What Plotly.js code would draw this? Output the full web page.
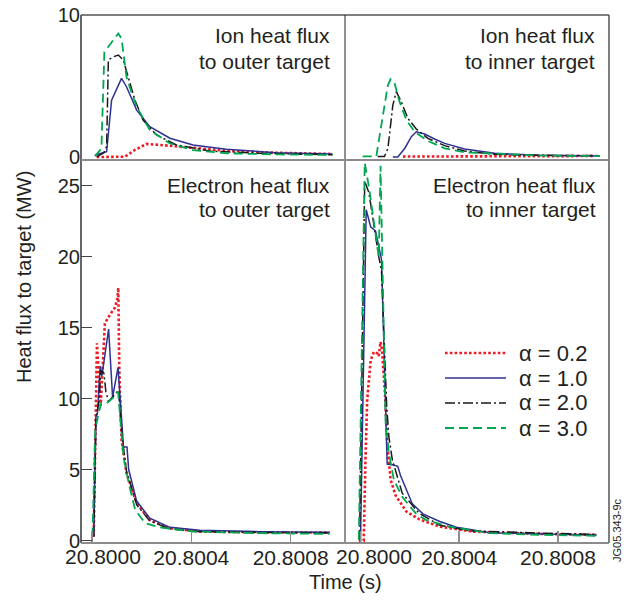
<!DOCTYPE html>
<html>
<head>
<meta charset="utf-8">
<script src="https://cdn.plot.ly/plotly-3.0.1.min.js"></script>
<style>html,body{margin:0;padding:0;background:#fff;}#chart{width:625px;height:606px;}</style>
</head>
<body>
<div id="chart"></div>
<script>
// ---- Data (time in s, heat flux in MW) ----
const seriesNames = ["α = 0.2", "α = 1.0", "α = 2.0", "α = 3.0"];
const panelTitles = [["Ion heat flux", "to outer target"], ["Ion heat flux", "to inner target"],
                     ["Electron heat flux", "to outer target"], ["Electron heat flux", "to inner target"]];
const xTickVals = [20.8, 20.8004, 20.8008];
const xTickText = ["", "20.8004", "20.8008"];
const xFirstTickVal = 20.8;
const xFirstTickText = "20.8000";
const yTickValsTop = [0, 10];
const yTickValsBottom = [0, 5, 10, 15, 20, 25];

// Ion heat flux to outer target
const ionOut02_t = [20.800019, 20.800133, 20.800173, 20.800220, 20.800273, 20.800381, 20.800541, 20.800742, 20.800970];
const ionOut02_q = [0.0, 0.02, 0.5, 0.92, 0.85, 0.68, 0.44, 0.30, 0.21];
const ionOut10_t = [20.800012, 20.800059, 20.800079, 20.800086, 20.800119, 20.800139, 20.800180, 20.800233, 20.800314, 20.800407, 20.800541, 20.800742, 20.800969];
const ionOut10_q = [0.14, 0.37, 4.0, 4.25, 5.54, 4.95, 3.3, 2.13, 1.32, 0.85, 0.54, 0.30, 0.21];
const ionOut20_t = [20.800019, 20.800048, 20.800059, 20.800066, 20.800086, 20.800106, 20.800126, 20.800146, 20.800173, 20.800206, 20.800260, 20.800340, 20.800474, 20.800675, 20.800969];
const ionOut20_q = [0.02, 0.3, 0.73, 6.83, 7.06, 7.18, 6.83, 5.65, 4.0, 2.6, 1.55, 0.85, 0.42, 0.26, 0.16];
const ionOut30_t = [20.800012, 20.800038, 20.800050, 20.800106, 20.800119, 20.800139, 20.800160, 20.800180, 20.800233, 20.800314, 20.800407, 20.800541, 20.800756, 20.800969];
const ionOut30_q = [0.05, 0.6, 7.4, 8.7, 8.35, 5.65, 4.5, 3.54, 1.9, 0.96, 0.49, 0.26, 0.18, 0.14];

// Ion heat flux to inner target
const ionIn02_t = [20.800172, 20.800564, 20.800950];
const ionIn02_q = [0.03, 0.03, 0.07];
const ionIn10_t = [20.800131, 20.800151, 20.800179, 20.800206, 20.800226, 20.800260, 20.800300, 20.800341, 20.800422, 20.800544, 20.800727, 20.800970];
const ionIn10_q = [0.0, 0.0, 0.6, 1.43, 1.78, 1.62, 1.27, 0.96, 0.56, 0.26, 0.12, 0.07];
const ionIn20_t = [20.800069, 20.800097, 20.800111, 20.800131, 20.800145, 20.800165, 20.800192, 20.800226, 20.800273, 20.800341, 20.800422, 20.800544, 20.800727, 20.800970];
const ionIn20_q = [0.03, 0.03, 0.6, 3.66, 4.6, 3.9, 2.72, 1.97, 1.31, 0.8, 0.42, 0.19, 0.12, 0.1];
const ionIn30_t = [20.800009, 20.800064, 20.800091, 20.800111, 20.800122, 20.800138, 20.800158, 20.800186, 20.800219, 20.800273, 20.800341, 20.800422, 20.800727, 20.800970];
const ionIn30_q = [0.05, 0.05, 2.96, 5.07, 5.49, 5.19, 3.9, 2.6, 1.78, 1.13, 0.61, 0.33, 0.1, 0.07];

// Electron heat flux to outer target
const elOut02_t = [20.800007, 20.800014, 20.800020, 20.800028, 20.800035, 20.800044, 20.800052, 20.800072, 20.800092, 20.800102, 20.800106, 20.800110, 20.800115, 20.800119, 20.800139, 20.800180, 20.800233, 20.800314, 20.800434, 20.800675, 20.800957];
const elOut02_q = [0.3, 7.0, 13.9, 11.5, 9.5, 12.5, 15.3, 15.9, 16.4, 17.0, 17.8, 12.0, 9.0, 7.1, 4.77, 2.65, 1.48, 0.89, 0.66, 0.59, 0.59];
const elOut10_t = [20.800007, 20.800016, 20.800022, 20.800033, 20.800040, 20.800048, 20.800067, 20.800083, 20.800105, 20.800110, 20.800127, 20.800141, 20.800148, 20.800180, 20.800233, 20.800314, 20.800434, 20.800675, 20.800957];
const elOut10_q = [0.3, 8.75, 9.0, 12.3, 11.6, 12.5, 14.9, 10.1, 12.2, 10.9, 6.6, 6.6, 5.0, 2.8, 1.6, 0.95, 0.75, 0.65, 0.6];
const elOut20_t = [20.800007, 20.800016, 20.800028, 20.800036, 20.800048, 20.800056, 20.800067, 20.800087, 20.800107, 20.800121, 20.800139, 20.800180, 20.800233, 20.800314, 20.800434, 20.800675, 20.800957];
const elOut20_q = [0.3, 8.6, 9.8, 12.0, 11.8, 10.5, 9.8, 10.2, 10.6, 7.35, 4.9, 2.55, 1.4, 0.85, 0.65, 0.6, 0.55];
const elOut30_t = [20.800002, 20.800013, 20.800024, 20.800037, 20.800060, 20.800087, 20.800105, 20.800114, 20.800127, 20.800148, 20.800174, 20.800214, 20.800273, 20.800407, 20.800675, 20.800957];
const elOut30_q = [0.3, 7.8, 8.75, 9.7, 9.7, 10.1, 10.5, 8.75, 5.9, 4.06, 2.18, 1.25, 0.95, 0.66, 0.54, 0.49];

// Electron heat flux to inner target
const elIn02_t = [20.799993, 20.800013, 20.800020, 20.800027, 20.800041, 20.800054, 20.800068, 20.800074, 20.800081, 20.800087, 20.800099, 20.800108, 20.800122, 20.800142, 20.800186, 20.800240, 20.800321, 20.800456, 20.800727, 20.800957];
const elIn02_q = [0.0, 0.0, 5.7, 9.9, 12.7, 13.3, 13.2, 13.0, 14.0, 13.5, 10.4, 6.9, 4.3, 3.2, 2.06, 1.5, 1.0, 0.65, 0.49, 0.42];
const elIn10_t = [20.800000, 20.800023, 20.800041, 20.800061, 20.800085, 20.800095, 20.800108, 20.800129, 20.800151, 20.800162, 20.800186, 20.800210, 20.800253, 20.800321, 20.800389, 20.800524, 20.800727, 20.800957];
const elIn10_q = [0.07, 23.3, 22.1, 21.8, 19.8, 13.9, 5.4, 5.35, 5.25, 4.6, 3.6, 2.6, 1.9, 1.36, 0.96, 0.58, 0.49, 0.42];
const elIn20_t = [20.799996, 20.800017, 20.800034, 20.800054, 20.800074, 20.800085, 20.800095, 20.800106, 20.800115, 20.800129, 20.800169, 20.800237, 20.800321, 20.800443, 20.800727, 20.800957];
const elIn20_q = [0.07, 25.3, 24.5, 22.1, 20.0, 19.0, 14.2, 9.5, 7.3, 5.7, 3.36, 1.95, 1.1, 0.7, 0.55, 0.45];
const elIn30_t = [20.799993, 20.800017, 20.800034, 20.800054, 20.800068, 20.800074, 20.800081, 20.800088, 20.800095, 20.800102, 20.800115, 20.800135, 20.800169, 20.800223, 20.800264, 20.800361, 20.800524, 20.800727, 20.800957];
const elIn30_q = [0.07, 26.6, 24.9, 22.4, 20.7, 20.0, 26.4, 19.8, 14.2, 8.05, 6.2, 4.3, 3.1, 1.95, 1.48, 1.0, 0.54, 0.42, 0.35];

// ---- Styles ----
const lineStyles = [
  {color: '#ed1c24', width: 2.6, dash: '2.6px,2.2px'},
  {color: '#2e3192', width: 1.5, dash: 'solid'},
  {color: '#1a1a1a', width: 1.5, dash: '10px,3px,2px,3px'},
  {color: '#00a651', width: 1.8, dash: '9px,5px'}
];
const FONT = '"Liberation Sans", Arial, Helvetica, sans-serif';
const TXT = '#231f20';

const panels = [
  {xa: 'x3', ya: 'y3', t: [ionOut02_t, ionOut10_t, ionOut20_t, ionOut30_t], q: [ionOut02_q, ionOut10_q, ionOut20_q, ionOut30_q]},
  {xa: 'x4', ya: 'y4', t: [ionIn02_t, ionIn10_t, ionIn20_t, ionIn30_t], q: [ionIn02_q, ionIn10_q, ionIn20_q, ionIn30_q]},
  {xa: 'x', ya: 'y', t: [elOut02_t, elOut10_t, elOut20_t, elOut30_t], q: [elOut02_q, elOut10_q, elOut20_q, elOut30_q]},
  {xa: 'x2', ya: 'y2', t: [elIn02_t, elIn10_t, elIn20_t, elIn30_t], q: [elIn02_q, elIn10_q, elIn20_q, elIn30_q]}
];

const traces = [];
panels.forEach((p, pi) => {
  for (let s = 0; s < 4; s++) {
    traces.push({
      type: 'scatter', mode: 'lines',
      x: p.t[s], y: p.q[s], xaxis: p.xa, yaxis: p.ya,
      name: seriesNames[s], legendgroup: 'g' + s,
      showlegend: false,
      line: lineStyles[s], hoverinfo: 'skip'
    });
  }
});

const ySplit = 0.7254;
const xLeftRange = [20.7999558, 20.8010191];
const xRightRange = [20.7999371, 20.8010069];

const xBottom = (dom, range, anchor) => ({
  domain: dom, range: range, anchor: anchor,
  tickvals: xTickVals, ticktext: xTickText,
  ticks: 'inside', ticklen: 12, tickwidth: 1.5, tickcolor: '#8c8c8c',
  ticklabelstandoff: 0,
  showline: false, showgrid: false, zeroline: false,
  tickfont: {family: FONT, size: 21, color: TXT}
});
const xTop = (dom, range, anchor) => ({
  domain: dom, range: range, anchor: anchor,
  showticklabels: false, ticks: '', showline: false, showgrid: false, zeroline: false
});

const annotations = [];
const titlePos = [
  {x: 0.4754, y1: 0.9621, y2: 0.9110},
  {x: 0.9773, y1: 0.9621, y2: 0.9110},
  {x: 0.4754, y1: 0.6780, y2: 0.6307},
  {x: 0.9790, y1: 0.6780, y2: 0.6307}
];
panelTitles.forEach((tt, i) => {
  annotations.push({xref: 'paper', yref: 'paper', x: titlePos[i].x, y: titlePos[i].y1, xanchor: 'right', yanchor: 'middle',
    text: tt[0], showarrow: false, font: {family: FONT, size: 21, color: TXT}});
  annotations.push({xref: 'paper', yref: 'paper', x: titlePos[i].x, y: titlePos[i].y2, xanchor: 'right', yanchor: 'middle',
    text: tt[1], showarrow: false, font: {family: FONT, size: 21, color: TXT}});
});
// first time label of each bottom axis, nudged right of its tick as in the original figure
annotations.push({xref: 'x', yref: 'paper', x: xFirstTickVal, y: -0.0265, xanchor: 'center', yanchor: 'middle', xshift: 11,
  text: xFirstTickText, showarrow: false, font: {family: FONT, size: 21, color: TXT}});
annotations.push({xref: 'x2', yref: 'paper', x: xFirstTickVal, y: -0.0265, xanchor: 'center', yanchor: 'middle', xshift: 13,
  text: xFirstTickText, showarrow: false, font: {family: FONT, size: 21, color: TXT}});
annotations.push({xref: 'paper', yref: 'paper', x: 0.5, y: -0.0738, xanchor: 'center', yanchor: 'middle',
  text: 'Time (s)', showarrow: false, font: {family: FONT, size: 20, color: TXT}});
annotations.push({xref: 'paper', yref: 'paper', x: -0.108, y: 0.5038, xanchor: 'center', yanchor: 'middle', textangle: -90,
  text: 'Heat flux to target (MW)', showarrow: false, font: {family: FONT, size: 20, color: TXT}});
annotations.push({xref: 'paper', yref: 'paper', x: 1.015, y: 0.0246, xanchor: 'center', yanchor: 'middle', textangle: -90,
  text: 'JG05.343-9c', showarrow: false, font: {family: FONT, size: 11, color: TXT}});

const line = (x0, y0, x1, y1, style, layer) => ({type: 'line', xref: 'paper', yref: 'paper', x0, y0, x1, y1,
  line: style, layer: layer || 'below'});
const shapes = [
  line(0, 0, 0, 1, {color: '#333333', width: 1.5}),
  line(0, 1, 1, 1, {color: '#555555', width: 1.5}),
  line(1, 0, 1, 1, {color: '#555555', width: 1.5}),
  line(0.5, 0, 0.5, 1, {color: '#222222', width: 1}),
  line(0, ySplit, 1, ySplit, {color: '#8c8c8c', width: 2}),
  line(0, 0, 1, 0, {color: '#8c8c8c', width: 2})
];

// Legend (key) drawn inside the electron / inner-target panel
const legendRowsY = [0.3598, 0.3125, 0.2652, 0.2178];
seriesNames.forEach((nm, s) => {
  shapes.push(line(0.6894, legendRowsY[s], 0.8049, legendRowsY[s], lineStyles[s], 'above'));
  annotations.push({xref: 'paper', yref: 'paper', x: 0.8258, y: legendRowsY[s], xanchor: 'left', yanchor: 'middle',
    text: nm, showarrow: false, font: {family: FONT, size: 22, color: TXT}});
});

const layout = {
  width: 625, height: 606,
  margin: {l: 81, r: 16, t: 15, b: 63},
  paper_bgcolor: '#ffffff', plot_bgcolor: '#ffffff',
  font: {family: FONT, color: TXT},
  showlegend: false,
  xaxis: xBottom([0, 0.5], xLeftRange, 'y'),
  xaxis2: xBottom([0.5, 1], xRightRange, 'y2'),
  xaxis3: xTop([0, 0.5], xLeftRange, 'y3'),
  xaxis4: xTop([0.5, 1], xRightRange, 'y4'),
  yaxis: {domain: [0, ySplit], range: [-0.15, 26.8], anchor: 'x', tickvals: yTickValsBottom,
    ticks: 'inside', ticklen: 11, tickwidth: 1.2, tickcolor: '#444', showline: false, showgrid: false, zeroline: false,
    tickfont: {family: FONT, size: 20, color: TXT}},
  yaxis2: {domain: [0, ySplit], range: [-0.15, 26.8], anchor: 'x2', showticklabels: false, ticks: '',
    showline: false, showgrid: false, zeroline: false},
  yaxis3: {domain: [ySplit, 1], range: [-0.21, 10.001], anchor: 'x3', tickvals: yTickValsTop,
    ticks: '', showline: false, showgrid: false, zeroline: false,
    tickfont: {family: FONT, size: 20, color: TXT}},
  yaxis4: {domain: [ySplit, 1], range: [-0.21, 10.001], anchor: 'x4', showticklabels: false, ticks: '',
    showline: false, showgrid: false, zeroline: false},
  annotations: annotations,
  shapes: shapes
};

Plotly.newPlot('chart', traces, layout, {displayModeBar: false, staticPlot: true});
</script>
</body>
</html>
